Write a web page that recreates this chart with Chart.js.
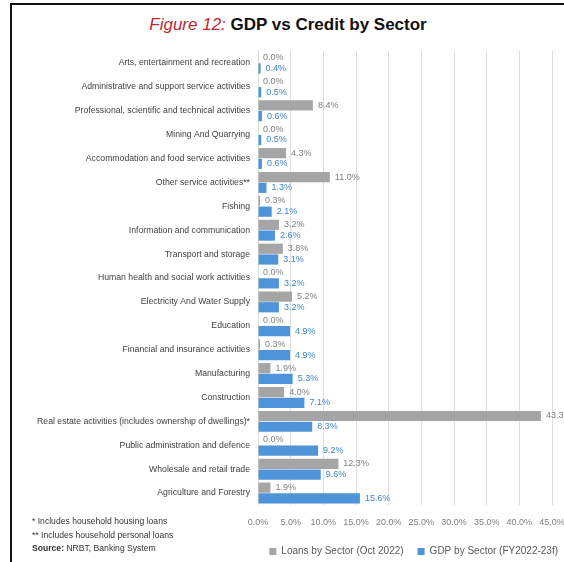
<!DOCTYPE html>
<html>
<head>
<meta charset="utf-8">
<script src="https://cdn.jsdelivr.net/npm/chart.js@4.4.1/dist/chart.umd.min.js"></script>
<style>
  html, body { margin: 0; padding: 0; background: #fff; }
  #wrap { position: relative; width: 564px; height: 562px; overflow: hidden; }
  #frame { position: absolute; left: 10px; top: 3px; right: -5px; bottom: -5px;
           border-left: 2px solid #111; border-top: 2px solid #111; }
  #title { position: absolute; left: 0; width: 576px; top: 15px; text-align: center;
           font: bold 17px 'Liberation Sans', Arial, sans-serif; color: #111; }
  #title i { color: #c0272d; font-weight: normal; }
  #notes { position: absolute; left: 32px; top: 515px; color: #333;
           font: 8.6px/13.5px 'Liberation Sans Narrow', 'Liberation Sans', sans-serif; }
  #chart { position: absolute; left: 0; top: 0; }
</style>
</head>
<body>
<div id="wrap">
  <div id="frame"></div>
  <div id="title"><i>Figure 12:</i> GDP vs Credit by Sector</div>
  <canvas id="chart" width="564" height="562"></canvas>
  <div id="notes">
    * Includes household housing loans<br>
    ** Includes household personal loans<br>
    <b>Source:</b> NRBT, Banking System
  </div>
</div>
<script>
const categories = [
  "Arts, entertainment and recreation",
  "Administrative and support service activities",
  "Professional, scientific and technical activities",
  "Mining And Quarrying",
  "Accommodation and food service activities",
  "Other service activities**",
  "Fishing",
  "Information and communication",
  "Transport and storage",
  "Human health and social work activities",
  "Electricity And Water Supply",
  "Education",
  "Financial and insurance activities",
  "Manufacturing",
  "Construction",
  "Real estate activities (includes ownership of dwellings)*",
  "Public administration and defence",
  "Wholesale and retail trade",
  "Agriculture and Forestry"
];
const loans = [0.0, 0.0, 8.4, 0.0, 4.3, 11.0, 0.3, 3.2, 3.8, 0.0, 5.2, 0.0, 0.3, 1.9, 4.0, 43.3, 0.0, 12.3, 1.9];
const gdp = [0.4, 0.5, 0.6, 0.5, 0.6, 1.3, 2.1, 2.6, 3.1, 3.2, 3.2, 4.9, 4.9, 5.3, 7.1, 8.3, 9.2, 9.6, 15.6];
const tickLabels = ["0.0%", "5.0%", "10.0%", "15.0%", "20.0%", "25.0%", "30.0%", "35.0%", "40.0%", "45.0%"];

const narrow = "'Liberation Sans Narrow', 'Liberation Sans', sans-serif";

// value labels at the end of each bar
const barLabels = {
  id: 'barLabels',
  afterDatasetsDraw(chart) {
    const ctx = chart.ctx;
    ctx.save();
    ctx.font = "9px " + narrow;
    ctx.textBaseline = 'middle';
    chart.data.datasets.forEach((ds, i) => {
      ctx.fillStyle = ds.labelColor;
      chart.getDatasetMeta(i).data.forEach((bar, j) => {
        ctx.fillText(ds.data[j].toFixed(1) + '%', bar.x + 5, bar.y);
      });
    });
    ctx.restore();
  }
};

new Chart(document.getElementById('chart'), {
  type: 'bar',
  data: {
    labels: categories,
    datasets: [{
      label: 'Loans by Sector (Oct 2022)',
      data: loans,
      backgroundColor: '#a5a5a5',
      labelColor: '#7f7f7f',
      barPercentage: 0.95,
      categoryPercentage: 0.9
    }, {
      label: 'GDP by Sector (FY2022-23f)',
      data: gdp,
      backgroundColor: '#4f94d8',
      labelColor: '#3d85d0',
      barPercentage: 0.95,
      categoryPercentage: 0.9
    }]
  },
  options: {
    indexAxis: 'y',
    responsive: false,
    animation: false,
    layout: { padding: { top: 51, left: 12, right: -8, bottom: -4.5 } },
    scales: {
      x: {
        min: 0,
        max: 45,
        border: { display: false },
        grid: { color: '#dddddd', drawTicks: false },
        ticks: {
          stepSize: 5,
          padding: 12,
          color: '#808080',
          font: { family: narrow, size: 9 },
          callback: (v, i) => tickLabels[i]
        },
        afterFit: (scale) => {
          scale.height = 27.5;
          scale.paddingLeft = 0;
          scale.paddingRight = 12;
        }
      },
      y: {
        border: { display: false },
        grid: { display: false, drawTicks: false },
        ticks: {
          padding: 8,
          color: '#404040',
          autoSkip: false,
          font: { family: narrow, size: 8.7 }
        },
        afterFit: (scale) => { scale.width = 246; }
      }
    },
    plugins: {
      legend: {
        position: 'bottom',
        align: 'end',
        labels: {
          boxWidth: 7,
          boxHeight: 7,
          padding: 14,
          color: '#595959',
          font: { family: narrow, size: 10 }
        }
      },
      tooltip: { enabled: false }
    }
  },
  plugins: [barLabels]
});
</script>
</body>
</html>
